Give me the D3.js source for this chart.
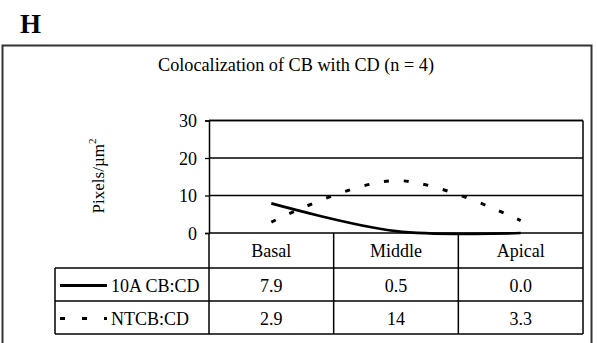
<!DOCTYPE html>
<html>
<head>
<meta charset="utf-8">
<script src="https://cdn.jsdelivr.net/npm/d3@7"></script>
<style>
  body { margin: 0; background: #fff; }
  text { font-family: "Liberation Serif", "DejaVu Serif", serif; fill: #000; }
</style>
</head>
<body>
<div id="chart"></div>
<script>
// chart data
var categories = ["Basal", "Middle", "Apical"];
var seriesNames = ["10A CB:CD", "NTCB:CD"];
var values10A = [7.9, 0.5, 0.0];
var valuesNT = [2.9, 14, 3.3];
var cellText10A = ["7.9", "0.5", "0.0"];
var cellTextNT = ["2.9", "14", "3.3"];
var yTicks = [0, 10, 20, 30];

var w = 597, h = 343;
var svg = d3.select("#chart").append("svg")
  .attr("width", w)
  .attr("height", h);

// panel letter
svg.append("text")
  .attr("x", 20).attr("y", 33)
  .style("font-size", "27px").style("font-weight", "bold")
  .text("H");

// outer frame
svg.append("rect")
  .attr("x", 2.5).attr("y", 45.5)
  .attr("width", 589).attr("height", 310)
  .attr("fill", "none").attr("stroke", "#333").attr("stroke-width", 2);

svg.append("text")
  .attr("x", 296).attr("y", 71)
  .attr("text-anchor", "middle")
  .style("font-size", "18px")
  .attr("textLength", 276).attr("lengthAdjust", "spacingAndGlyphs")
  .text("Colocalization of CB with CD (n = 4)");

var plotL = 209, plotR = 583, plotT = 120.5, plotZ = 233;
var x = d3.scaleBand().domain(categories).range([plotL, plotR]);
var y = d3.scaleLinear().domain([0, 30]).range([plotZ, plotT]);

// gridlines
svg.append("g").selectAll("line")
  .data(yTicks.filter(function(d) { return d > 0; }))
  .enter().append("line")
  .attr("x1", plotL).attr("x2", plotR)
  .attr("y1", function(d) { return y(d); })
  .attr("y2", function(d) { return y(d); })
  .attr("stroke", "#000").attr("stroke-width", 1.3);

// y axis
var yAxis = svg.append("g")
  .attr("transform", "translate(" + plotL + ",0)")
  .call(d3.axisLeft(y).tickValues(yTicks).tickSize(4).tickPadding(8));
yAxis.select(".domain").attr("stroke", "#000").attr("stroke-width", 1.5);
yAxis.selectAll(".tick line").attr("stroke", "#000").attr("stroke-width", 1.3);
yAxis.selectAll("text")
  .style("font-size", "18px")
  .style("font-family", "'Liberation Serif', serif")
  .attr("dy", "0.35em");

// y label
var ylab = svg.append("text")
  .attr("transform", "translate(104,176) rotate(-90)")
  .attr("text-anchor", "middle")
  .style("font-size", "17px");
ylab.append("tspan").text("Pixels/µm");
ylab.append("tspan").attr("dy", -8).style("font-size", "11px").text("2");

// table
var tableL = 55;
var rows = [268, 301, 334];
var grid = svg.append("g").attr("stroke", "#000").attr("stroke-width", 1.5);
grid.append("line").attr("x1", plotR).attr("x2", plotR).attr("y1", plotT).attr("y2", rows[2]);
grid.append("line").attr("x1", plotL).attr("x2", plotR).attr("y1", plotT).attr("y2", plotT);
grid.append("line").attr("x1", plotL).attr("x2", plotR).attr("y1", plotZ).attr("y2", plotZ);
rows.forEach(function(r) {
  grid.append("line").attr("x1", tableL).attr("x2", plotR).attr("y1", r).attr("y2", r);
});
grid.append("line").attr("x1", tableL).attr("x2", tableL).attr("y1", rows[0]).attr("y2", rows[2]);
categories.slice(1).forEach(function(c) {
  grid.append("line").attr("x1", x(c)).attr("x2", x(c)).attr("y1", plotZ).attr("y2", rows[2]);
});
grid.append("line").attr("x1", plotL).attr("x2", plotL).attr("y1", plotZ).attr("y2", rows[2]);

// header labels
svg.append("g").selectAll("text")
  .data(categories)
  .enter().append("text")
  .attr("x", function(d) { return x(d) + x.bandwidth() / 2; })
  .attr("y", 257)
  .attr("text-anchor", "middle")
  .style("font-size", "18px")
  .text(function(d) { return d; });

var cellRows = [cellText10A, cellTextNT];
cellRows.forEach(function(row, i) {
  svg.append("g").selectAll("text")
    .data(row)
    .enter().append("text")
    .attr("x", function(d, j) { return x(categories[j]) + x.bandwidth() / 2; })
    .attr("y", (rows[i] + rows[i + 1]) / 2 + 7)
    .attr("text-anchor", "middle")
    .style("font-size", "18px")
    .text(function(d) { return d; });
});

// legend entries
var dashes = [null, "5,17"];
seriesNames.forEach(function(name, i) {
  var cy = (rows[i] + rows[i + 1]) / 2 + 1;
  svg.append("line")
    .attr("x1", 60).attr("x2", 107).attr("y1", cy).attr("y2", cy)
    .attr("stroke", "#000").attr("stroke-width", 3)
    .attr("stroke-dasharray", dashes[i]);
  svg.append("text")
    .attr("x", 111).attr("y", cy + 6)
    .style("font-size", "18px")
    .text(name);
});

// series lines
var line = d3.line()
  .x(function(d, i) { return x(categories[i]) + x.bandwidth() / 2; })
  .y(function(d) { return y(d); })
  .curve(d3.curveCatmullRom.alpha(0.5));

svg.append("path")
  .attr("d", line(values10A))
  .attr("fill", "none").attr("stroke", "#000").attr("stroke-width", 2.6);

svg.append("path")
  .attr("d", line(valuesNT))
  .attr("fill", "none").attr("stroke", "#000").attr("stroke-width", 3)
  .attr("stroke-dasharray", "5,15");
</script>
</body>
</html>
